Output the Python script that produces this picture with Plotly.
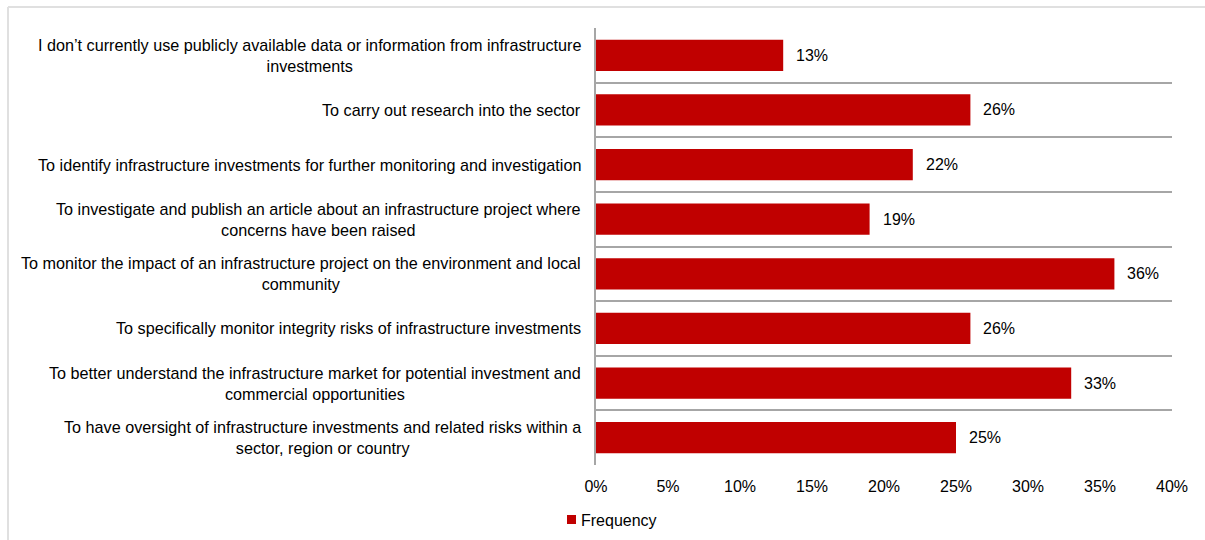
import plotly.graph_objects as go

# Survey responses: uses of publicly available infrastructure data
categories = [
    "I don’t currently use publicly available data or information from infrastructure<br>investments",
    "To carry out research into the sector",
    "To identify infrastructure investments for further monitoring and investigation",
    "To investigate and publish an article about an infrastructure project where<br>concerns have been raised",
    "To monitor the impact of an infrastructure project on the environment and local<br>community",
    "To specifically monitor integrity risks of infrastructure investments",
    "To better understand the infrastructure market for potential investment and<br>commercial opportunities",
    "To have oversight of infrastructure investments and related risks within a<br>sector, region or country",
]
frequency = [13, 26, 22, 19, 36, 26, 33, 25]
x_ticks = [0, 5, 10, 15, 20, 25, 30, 35, 40]
x_tick_labels = ["0%", "5%", "10%", "15%", "20%", "25%", "30%", "35%", "40%"]
series_name = "Frequency"

BAR_RED = "#C00000"
GRID = "#a6a6a6"
FONT = "Liberation Sans, Arial, sans-serif"

W, H = 1205, 540
L, R, T, B = 596, 33, 28, 75
plot_w = W - L - R
plot_h = H - T - B

# plain category keys for the axis; the wrapped text is drawn as annotations
keys = [c.replace("<br>", " ") for c in categories]

fig = go.Figure()
fig.add_trace(go.Bar(
    x=frequency,
    y=keys,
    orientation="h",
    marker=dict(color=BAR_RED, line=dict(width=0)),
    name=series_name,
    showlegend=False,
    hoverinfo="skip",
))

annotations = []
# value labels placed just past each bar end
for k, v in zip(keys, frequency):
    annotations.append(dict(
        x=v, y=k, xref="x", yref="y", text=f"{v}%", showarrow=False,
        xanchor="left", yanchor="middle", xshift=11,
        font=dict(family=FONT, size=16, color="#000000"),
    ))

# category labels: block right-aligned to the axis, lines centred
for k, cat in zip(keys, categories):
    annotations.append(dict(
        x=0, y=k, xref="paper", yref="y", text=cat, showarrow=False,
        xanchor="right", yanchor="middle", align="center", xshift=-13,
        font=dict(family=FONT, size=16.2, color="#000000"),
    ))

# legend entry
annotations.append(dict(
    x=(579 - L) / plot_w, y=-(520 - (H - B)) / plot_h, xref="paper", yref="paper",
    text=series_name, showarrow=False, xanchor="left", yanchor="middle",
    font=dict(family=FONT, size=16, color="#000000"),
))

fig.update_layout(
    width=W, height=H,
    margin=dict(l=L, r=R, t=T, b=B, pad=0),
    paper_bgcolor="white", plot_bgcolor="white",
    bargap=0.43,
    font=dict(family=FONT, size=16, color="#000000"),
    annotations=annotations,
    xaxis=dict(
        range=[0, 40], tickvals=x_ticks, ticktext=x_tick_labels,
        showgrid=False, zeroline=False, showline=False,
        ticks="", ticklabelstandoff=10,
        tickfont=dict(family=FONT, size=16, color="#000000"),
        fixedrange=True,
    ),
    yaxis=dict(
        type="category", categoryorder="array", categoryarray=keys,
        autorange="reversed",
        showticklabels=False,
        tickson="boundaries", ticks="",
        showgrid=True, gridcolor=GRID, gridwidth=1.5,
        showline=True, linecolor=GRID, linewidth=1.5, mirror=False,
        zeroline=False, fixedrange=True,
    ),
    shapes=[
        # outer frame (top and left edges)
        dict(type="line", xref="paper", yref="paper",
             x0=(8 - L) / plot_w, x1=(W - L) / plot_w,
             y0=1 + (T - 7) / plot_h, y1=1 + (T - 7) / plot_h,
             line=dict(color="#e0e0e0", width=2)),
        dict(type="line", xref="paper", yref="paper",
             x0=(8 - L) / plot_w, x1=(8 - L) / plot_w,
             y0=-B / plot_h, y1=1 + (T - 7) / plot_h,
             line=dict(color="#e0e0e0", width=2)),
        # legend swatch
        dict(type="rect", xref="paper", yref="paper",
             x0=(567 - L) / plot_w, x1=(576 - L) / plot_w,
             y0=-(524 - (H - B)) / plot_h, y1=-(515 - (H - B)) / plot_h,
             fillcolor=BAR_RED, line=dict(width=0)),
    ],
)

fig.write_html("out.html")
